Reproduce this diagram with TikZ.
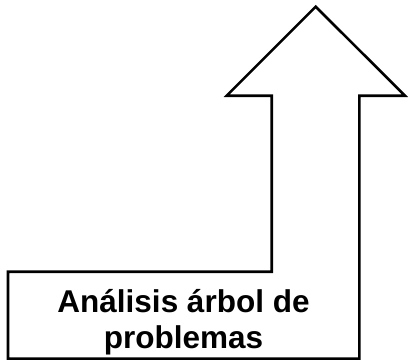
\documentclass[tikz,border=0pt]{standalone}
\usepackage{fontspec}
\setmainfont{Liberation Sans}
\begin{document}
\begin{tikzpicture}[x=1pt,y=-1pt,
  outline/.style={draw=black,line width=2.6pt,line join=miter,fill=white},
  label/.style={font=\fontsize{31.5}{34.5}\selectfont\bfseries,align=center,inner sep=0pt,anchor=base}]
\useasboundingbox (0,0) rectangle (409,360);
\draw[outline] (8,271.7) -- (271.7,271.7) -- (271.7,95.7) -- (226.7,95.7)
  -- (315.7,6.7) -- (405,95.7) -- (359.3,95.7) -- (359.3,358.6) -- (8,358.6) -- cycle;
\node[label] (t1) at (183.5,312) {Análisis árbol de};
\node[label] (t2) at (183.5,348) {problemas};
\end{tikzpicture}
\end{document}
